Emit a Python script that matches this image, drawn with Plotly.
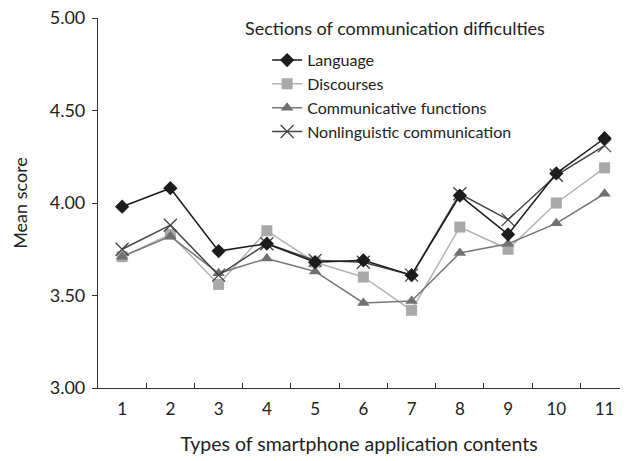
import plotly.graph_objects as go

categories = ["1", "2", "3", "4", "5", "6", "7", "8", "9", "10", "11"]
language = [3.98, 4.08, 3.74, 3.78, 3.68, 3.69, 3.61, 4.04, 3.83, 4.16, 4.35]
discourses = [3.71, 3.83, 3.56, 3.85, 3.68, 3.60, 3.42, 3.87, 3.75, 4.00, 4.19]
communicative = [3.71, 3.82, 3.62, 3.70, 3.63, 3.46, 3.47, 3.73, 3.78, 3.89, 4.05]
nonlinguistic = [3.75, 3.88, 3.61, 3.78, 3.69, 3.68, 3.61, 4.05, 3.91, 4.15, 4.31]

FONT = "Lato"

fig = go.Figure()

series = [
    ("Discourses", discourses, "#a9a9a9", "#b4b4b4", "square", 11, 2),
    ("Communicative functions", communicative, "#717171", "#777777", "triangle-up", 11, 3),
    ("Nonlinguistic communication", nonlinguistic, "#444444", "#444444", "x-thin", 13, 4),
    ("Language", language, "#1c1c1c", "#1c1c1c", "diamond", 11, 1),
]

for name, vals, mcol, lcol, sym, size, rank in series:
    marker = dict(symbol=sym, size=size, color=mcol)
    if sym == "x-thin":
        marker["line"] = dict(color=mcol, width=1.3)
    fig.add_trace(go.Scatter(
        x=categories, y=vals, name=name, mode="lines+markers",
        line=dict(color=lcol, width=1.5),
        marker=marker, legendrank=rank, legendgroup=name,
    ))

fig.update_layout(
    width=627, height=461,
    margin=dict(l=98, r=7, t=18, b=73),
    paper_bgcolor="white", plot_bgcolor="white",
    font=dict(family=FONT, color="#222222", size=15),
    showlegend=True,
    legend=dict(
        x=0.324, y=0.932, xanchor="left", yanchor="top",
        bgcolor="rgba(0,0,0,0)", font=dict(size=16, family=FONT),
        tracegroupgap=0,
    ),
    annotations=[dict(
        text="Sections of communication difficulties", xref="paper", yref="paper",
        x=0.278, y=0.973, xanchor="left", yanchor="middle", showarrow=False,
        font=dict(size=18, family=FONT, color="#222222"),
    )],
    xaxis=dict(
        type="category", range=[-0.5, 10.32], tickson="boundaries",
        ticks="inside", ticklen=5, tickcolor="#333333",
        showline=True, linecolor="#333333", linewidth=1.2,
        showgrid=False, zeroline=False, ticklabelstandoff=5,
        tickfont=dict(size=17, family=FONT),
        title=dict(text="Types of smartphone application contents",
                   font=dict(size=19.5, family=FONT), standoff=19),
    ),
    yaxis=dict(
        range=[3, 5], dtick=0.5, tickformat=".2f",
        ticks="outside", ticklen=5, tickcolor="#333333",
        showline=True, linecolor="#333333", linewidth=1.2,
        showgrid=False, zeroline=False, ticklabelstandoff=3,
        tickfont=dict(size=18, family=FONT),
        title=dict(text="Mean score", font=dict(size=18, family=FONT), standoff=17),
    ),
)

fig.write_html("out.html", config={"displayModeBar": False},
               post_script="document.body.style.margin='0';")
